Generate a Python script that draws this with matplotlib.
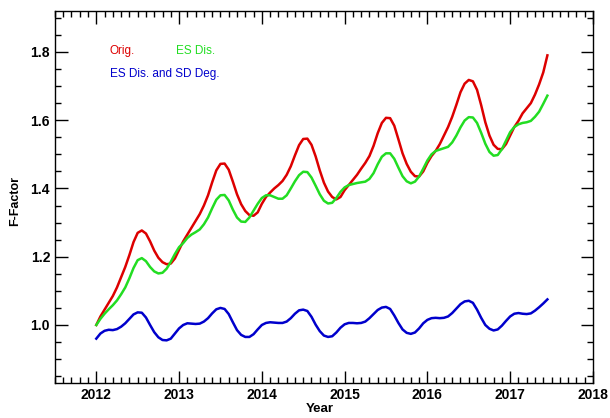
import numpy as np
import matplotlib
matplotlib.use('Agg')
import matplotlib.pyplot as plt
from matplotlib.ticker import MultipleLocator

# decimal year sampling of the F-factor time series
years = np.round(np.arange(2012.0, 2017.46, 0.05), 2)

orig = [1.000, 1.025, 1.045, 1.065, 1.085, 1.110, 1.140, 1.170, 1.205, 1.243,
        1.270, 1.277, 1.268, 1.245, 1.218, 1.197, 1.184, 1.178, 1.180, 1.195,
        1.220, 1.245, 1.265, 1.285, 1.305, 1.325, 1.350, 1.380, 1.418, 1.453,
        1.472, 1.473, 1.455, 1.420, 1.383, 1.354, 1.334, 1.322, 1.320, 1.330,
        1.355, 1.375, 1.388, 1.400, 1.410, 1.422, 1.440, 1.465, 1.497, 1.527,
        1.545, 1.546, 1.528, 1.494, 1.453, 1.417, 1.391, 1.375, 1.368, 1.375,
        1.395, 1.410, 1.425, 1.440, 1.458, 1.475, 1.495, 1.525, 1.562, 1.592,
        1.607, 1.606, 1.584, 1.544, 1.503, 1.472, 1.449, 1.436, 1.435, 1.450,
        1.475, 1.495, 1.510, 1.530, 1.555, 1.580, 1.610, 1.645, 1.682, 1.707,
        1.718, 1.714, 1.689, 1.644, 1.594, 1.555, 1.528, 1.516, 1.515, 1.530,
        1.555, 1.580, 1.598, 1.620, 1.635, 1.650, 1.675, 1.705, 1.740, 1.790]

es_dis = [1.000, 1.018, 1.033, 1.046, 1.058, 1.072, 1.090, 1.110, 1.137, 1.167,
          1.190, 1.196, 1.187, 1.170, 1.157, 1.151, 1.153, 1.165, 1.185, 1.208,
          1.228, 1.240, 1.255, 1.265, 1.272, 1.280, 1.295, 1.315, 1.342, 1.367,
          1.380, 1.381, 1.365, 1.338, 1.315, 1.303, 1.302, 1.315, 1.335, 1.355,
          1.372, 1.380, 1.380, 1.375, 1.370, 1.370, 1.380, 1.400, 1.421, 1.439,
          1.449, 1.448, 1.432, 1.408, 1.383, 1.364, 1.356, 1.358, 1.372, 1.390,
          1.403, 1.410, 1.413, 1.416, 1.418, 1.420, 1.428, 1.445, 1.471, 1.493,
          1.503, 1.503, 1.487, 1.461, 1.436, 1.421, 1.415, 1.420, 1.435, 1.458,
          1.482, 1.500, 1.510, 1.514, 1.518, 1.522, 1.535, 1.555, 1.579, 1.599,
          1.609, 1.608, 1.592, 1.563, 1.531, 1.507, 1.496, 1.498, 1.515, 1.540,
          1.565, 1.580, 1.588, 1.592, 1.594, 1.598, 1.610, 1.625, 1.648, 1.672]

es_sd = [0.960, 0.975, 0.983, 0.986, 0.985, 0.988, 0.995, 1.005, 1.018, 1.031,
         1.037, 1.036, 1.022, 1.000, 0.979, 0.964, 0.956, 0.955, 0.960, 0.975,
         0.990, 1.000, 1.005, 1.004, 1.003, 1.004, 1.010, 1.020, 1.034, 1.046,
         1.050, 1.047, 1.032, 1.008, 0.985, 0.971, 0.965, 0.965, 0.973, 0.987,
         1.000, 1.006, 1.008, 1.007, 1.006, 1.006, 1.010, 1.020, 1.033, 1.043,
         1.045, 1.041, 1.024, 1.001, 0.982, 0.969, 0.965, 0.967, 0.978, 0.992,
         1.002, 1.006, 1.006, 1.005, 1.006, 1.010, 1.020, 1.032, 1.044, 1.051,
         1.053, 1.047, 1.028, 1.006, 0.987, 0.977, 0.974, 0.978, 0.990, 1.005,
         1.015, 1.020, 1.021, 1.020, 1.021, 1.025, 1.035, 1.048, 1.061, 1.069,
         1.071, 1.065, 1.045, 1.021, 1.000, 0.989, 0.984, 0.987, 0.998, 1.012,
         1.025, 1.033, 1.035, 1.033, 1.032, 1.034, 1.042, 1.052, 1.063, 1.075]

labels = ['Orig.', 'ES Dis.', 'ES Dis. and SD Deg.']
colors = ['#dd0000', '#22dd22', '#0000cc']

plt.rcParams['font.family'] = ['Liberation Sans', 'DejaVu Sans']

fig = plt.figure(figsize=(6.1, 4.18), dpi=100)
ax = fig.add_axes([0.090, 0.0837, 0.882, 0.890])

for series, c in zip([orig, es_dis, es_sd], colors):
    ax.plot(years, series, color=c, lw=1.8)

ax.set_xlim(2011.5, 2018.0)
ax.set_ylim(0.83, 1.92)
ax.xaxis.set_major_locator(MultipleLocator(1))
ax.xaxis.set_minor_locator(MultipleLocator(0.1))
ax.yaxis.set_major_locator(MultipleLocator(0.2))
ax.yaxis.set_minor_locator(MultipleLocator(0.05))
ax.xaxis.set_major_formatter(matplotlib.ticker.FormatStrFormatter('%d'))
ax.yaxis.set_major_formatter(matplotlib.ticker.FormatStrFormatter('%.1f'))
ax.tick_params(which='both', direction='in', top=True, right=True, width=1.0,
               labelsize=10)
ax.tick_params(which='major', length=9)
ax.tick_params(which='minor', length=4.5)
for lab in ax.get_xticklabels() + ax.get_yticklabels():
    lab.set_fontweight('bold')
for sp in ax.spines.values():
    sp.set_linewidth(1.0)

ax.text(0.102, 0.885, labels[0], transform=ax.transAxes, color=colors[0], fontsize=8.5)
ax.text(0.225, 0.885, labels[1], transform=ax.transAxes, color=colors[1], fontsize=8.5)
ax.text(0.102, 0.823, labels[2], transform=ax.transAxes, color=colors[2], fontsize=8.5)

fig.text(0.525, 0.006, 'Year', ha='center', va='bottom', fontsize=9.5, fontweight='bold')
fig.text(0.024, 0.52, 'F-Factor', ha='center', va='center', rotation=90,
         fontsize=9, fontweight='bold')

fig.savefig('out.png', dpi=100)
